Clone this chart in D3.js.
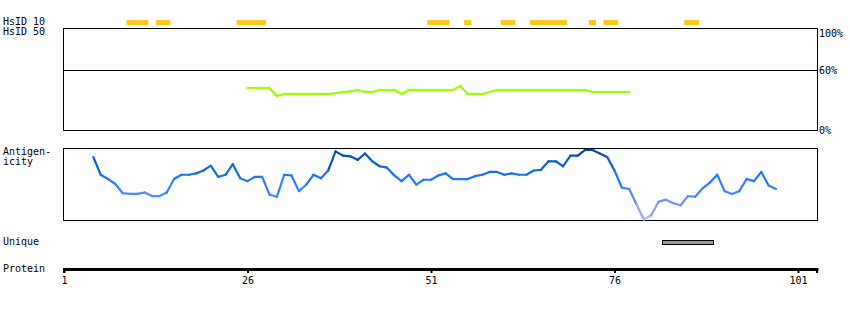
<!DOCTYPE html>
<html>
<head>
<meta charset="utf-8">
<script src="https://cdn.jsdelivr.net/npm/d3@7"></script>
<style>
  body { margin: 0; background: #fff; }
  svg text { font-family: "DejaVu Sans Mono", monospace; font-size: 10px; fill: #000; }
</style>
</head>
<body>
<svg width="850" height="310"></svg>
<script>
// residue ranges with HsID >= 10 (inclusive start/end)
const hsid10Segments = [[10, 12], [14, 15], [25, 28], [51, 53], [56, 56], [61, 62], [65, 69], [73, 73], [75, 76], [86, 87]]

// HsID 50 identity (%), residues 26..78
const hsid50Start = 26
const hsid50 = [42, 42, 42, 42, 34, 36, 36, 36, 36, 36, 36, 36, 37, 38, 38.5, 40, 38, 38, 40, 40, 40, 36,
    40, 40, 40, 40, 40, 40, 40, 44, 36, 36, 36, 38,
    40, 40, 40, 40, 40, 40, 40, 40, 40, 40, 40, 40, 40,
    38, 38, 38, 38, 38, 38]

// antigenicity score, residues 5..98
const antigenStart = 5
const antigenicity = [0.88, 0.63, 0.57, 0.50, 0.37, 0.36, 0.36, 0.38, 0.33, 0.33, 0.38, 0.57, 0.63, 0.63, 0.65, 0.69,
    0.76, 0.60, 0.63, 0.78, 0.58, 0.54, 0.60, 0.60, 0.35, 0.32, 0.63, 0.62, 0.40, 0.49, 0.63, 0.58, 0.69,
    0.96, 0.90, 0.89, 0.84, 0.93, 0.82, 0.75, 0.73, 0.62, 0.54, 0.63, 0.49, 0.56, 0.56, 0.62, 0.65, 0.57,
    0.57, 0.57, 0.61, 0.63, 0.67, 0.67, 0.63, 0.65, 0.63, 0.63, 0.69, 0.70, 0.82, 0.82, 0.75, 0.90, 0.90,
    0.98, 0.98, 0.93, 0.88, 0.69, 0.45, 0.43, 0.21, 0.00, 0.06, 0.25, 0.28, 0.23, 0.20, 0.33, 0.32, 0.44,
    0.52, 0.63, 0.40, 0.36, 0.40, 0.57, 0.54, 0.67, 0.48, 0.43]

const uniqueSegments = [[83, 89]]
const proteinTicks = [1, 26, 51, 76, 101]
const hsidTicks = [0, 60, 100]

const svg = d3.select("svg")

const left = 63.5, right = 817.5

const x = d3.scaleLinear().domain([1, 101]).range([64, 798])

// --- HsID 10 bars
svg.selectAll("rect.hs10")
    .data(hsid10Segments)
    .enter().append("rect")
    .attr("class", "hs10")
    .attr("x", d => x(d[0] - 0.5))
    .attr("width", d => x(d[1] + 0.5) - x(d[0] - 0.5))
    .attr("y", 20)
    .attr("height", 5)
    .attr("fill", "#ffc81e")

svg.append("text").attr("x", 3).attr("y", 25).text("HsID 10")
svg.append("text").attr("x", 3).attr("y", 35).text("HsID 50")

// --- HsID 50 panel
const boxTop = 28.5, boxBottom = 130.5
const yId = d3.scaleLinear().domain([0, 100]).range([130, 30])

svg.append("rect")
    .attr("x", left).attr("y", boxTop)
    .attr("width", right - left).attr("height", boxBottom - boxTop)
    .attr("fill", "none").attr("stroke", "#000")

svg.append("line")
    .attr("x1", left).attr("x2", right)
    .attr("y1", Math.round(yId(60)) + 0.5).attr("y2", Math.round(yId(60)) + 0.5)
    .attr("stroke", "#000")

svg.selectAll("text.idtick")
    .data(hsidTicks)
    .enter().append("text")
    .attr("class", "idtick")
    .attr("x", 819)
    .attr("y", d => Math.max(yId(d) + 4, boxTop + 8))
    .text(d => d + "%")

const greenColor = d3.scaleLinear().domain([40, 45]).range(["#99ff00", "#d0f000"]).clamp(true)
const idPoints = hsid50.map((v, i) => ({ r: hsid50Start + i, v }))
svg.append("g").selectAll("line")
    .data(d3.pairs(idPoints))
    .enter().append("line")
    .attr("x1", d => x(d[0].r)).attr("y1", d => yId(d[0].v))
    .attr("x2", d => x(d[1].r)).attr("y2", d => yId(d[1].v))
    .attr("stroke", d => greenColor((d[0].v + d[1].v) / 2))
    .attr("stroke-width", 2.2)
    .attr("stroke-linecap", "square")

// --- Antigenicity panel
const agTop = 148.5, agBottom = 220.5
const yAg = d3.scaleLinear().domain([0, 1]).range([219.5, 148.5])

svg.append("rect")
    .attr("x", left).attr("y", agTop)
    .attr("width", right - left).attr("height", agBottom - agTop)
    .attr("fill", "none").attr("stroke", "#000")

svg.append("text").attr("x", 3).attr("y", 155).text("Antigen-")
svg.append("text").attr("x", 3).attr("y", 165).text("icity")

const blue = d3.scaleLinear()
    .domain([0, 0.3, 0.6, 0.97])
    .range(["#c2b0ff", "#5a8cff", "#1a75ff", "#004a99"])
    .clamp(true)

const agPoints = antigenicity.map((v, i) => ({ r: antigenStart + i, v }))
svg.append("g").selectAll("line")
    .data(d3.pairs(agPoints))
    .enter().append("line")
    .attr("x1", d => x(d[0].r)).attr("y1", d => yAg(d[0].v))
    .attr("x2", d => x(d[1].r)).attr("y2", d => yAg(d[1].v))
    .attr("stroke", d => blue((d[0].v + d[1].v) / 2))
    .attr("stroke-width", 2.2)
    .attr("stroke-linecap", "round")

// --- Unique
svg.append("text").attr("x", 3).attr("y", 245).text("Unique")
svg.selectAll("rect.uniq")
    .data(uniqueSegments)
    .enter().append("rect")
    .attr("class", "uniq")
    .attr("x", d => Math.round(x(d[0] - 0.5)) + 0.5)
    .attr("width", d => Math.round(x(d[1] + 0.5) - x(d[0] - 0.5)))
    .attr("y", 240.5)
    .attr("height", 4)
    .attr("fill", "#999")
    .attr("stroke", "#000")

// --- Protein axis
svg.append("text").attr("x", 3).attr("y", 272).text("Protein")

const axis = d3.axisBottom(x)
    .tickValues(proteinTicks)
    .tickSize(5)
    .tickPadding(4)
    .tickSizeOuter(0)

const ag = svg.append("g")
    .attr("transform", "translate(0,268)")
    .call(axis)
ag.select(".domain").remove()
ag.selectAll(".tick line").attr("stroke", "#000").attr("stroke-width", 2)
ag.selectAll(".tick text")
    .style("font-family", "DejaVu Sans Mono, monospace")
    .style("font-size", "10px")

ag.insert("rect", ":first-child")
    .attr("x", 63).attr("y", 0)
    .attr("width", right - 63 + 1).attr("height", 3)
    .attr("fill", "#000")

// end caps at both ends
ag.selectAll("line.cap")
    .data([64, 817])
    .enter().append("line")
    .attr("class", "cap")
    .attr("x1", d => d).attr("x2", d => d)
    .attr("y1", 0).attr("y2", 5)
    .attr("stroke", "#000").attr("stroke-width", 2)
</script>
</body>
</html>
